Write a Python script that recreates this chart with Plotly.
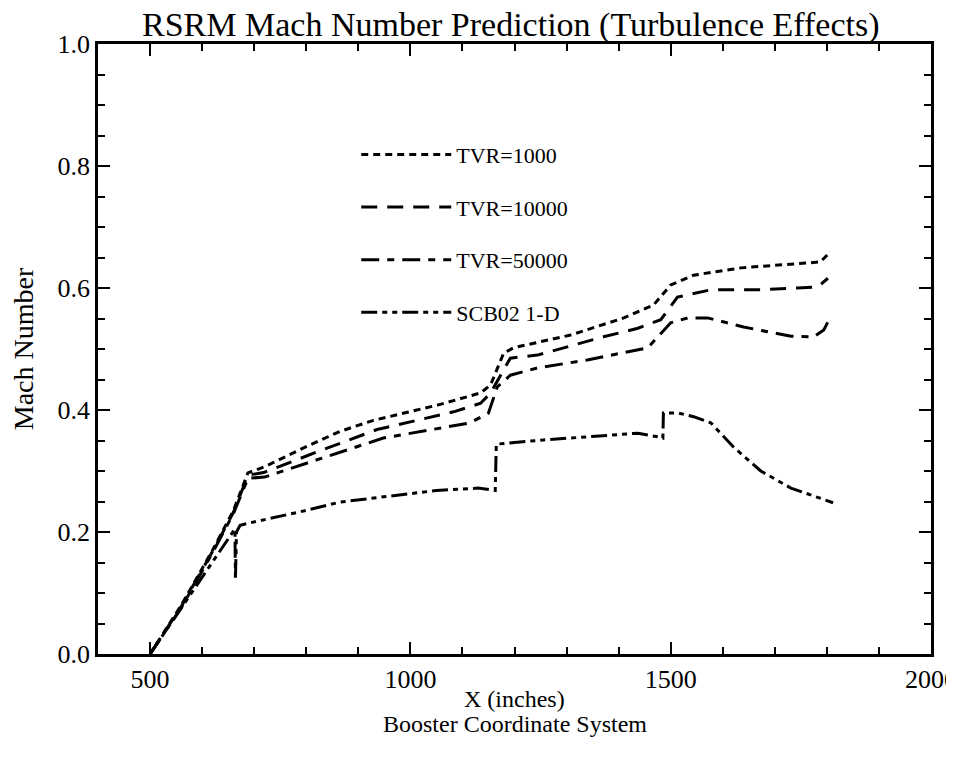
import plotly.graph_objects as go

# ---- data ----
tvr1000_x = [500, 560, 620, 660, 688, 720, 800, 865, 929, 1000, 1052, 1135, 1154, 1179, 1198, 1308, 1410, 1467, 1500, 1544, 1635, 1763, 1788, 1804]
tvr1000_y = [0.0, 0.08, 0.17, 0.235, 0.297, 0.307, 0.34, 0.365, 0.383, 0.398, 0.408, 0.428, 0.441, 0.493, 0.502, 0.523, 0.551, 0.572, 0.605, 0.621, 0.633, 0.641, 0.643, 0.657]

tvr10000_x = [500, 560, 620, 660, 688, 720, 820, 900, 936, 1083, 1135, 1154, 1192, 1244, 1371, 1437, 1481, 1500, 1513, 1577, 1673, 1744, 1783, 1802]
tvr10000_y = [0.0, 0.078, 0.168, 0.232, 0.293, 0.298, 0.331, 0.356, 0.368, 0.397, 0.411, 0.428, 0.485, 0.49, 0.52, 0.534, 0.548, 0.57, 0.585, 0.597, 0.597, 0.6, 0.602, 0.616]

tvr50000_x = [500, 560, 620, 660, 688, 720, 830, 900, 948, 1115, 1150, 1167, 1192, 1244, 1340, 1456, 1485, 1500, 1533, 1571, 1640, 1731, 1775, 1794, 1804]
tvr50000_y = [0.0, 0.076, 0.166, 0.23, 0.288, 0.29, 0.321, 0.341, 0.354, 0.379, 0.395, 0.438, 0.457, 0.469, 0.482, 0.502, 0.528, 0.543, 0.551, 0.551, 0.536, 0.521, 0.52, 0.531, 0.548]

scb02_x = [500, 560, 620, 660, 663, 664, 666, 673, 692, 788, 865, 942, 1050, 1130, 1163, 1165, 1256, 1340, 1437, 1475, 1485, 1486, 1515, 1544, 1577, 1621, 1673, 1731, 1812]
scb02_y = [0.0, 0.075, 0.15, 0.2, 0.205, 0.123, 0.2, 0.211, 0.215, 0.233, 0.249, 0.257, 0.268, 0.272, 0.268, 0.344, 0.351, 0.356, 0.362, 0.356, 0.354, 0.395, 0.395, 0.389, 0.379, 0.339, 0.30, 0.272, 0.248]

x_ticks = [500, 1000, 1500, 2000]
y_ticks = [0.0, 0.2, 0.4, 0.6, 0.8, 1.0]

series = [
    ("TVR=1000", tvr1000_x, tvr1000_y, "7px,5px"),
    ("TVR=10000", tvr10000_x, tvr10000_y, "16px,10px"),
    ("TVR=50000", tvr50000_x, tvr50000_y, "18px,8px,7px,8px"),
    ("SCB02 1-D", scb02_x, scb02_y, "16px,5px,5px,5px,5px,5px"),
]

FONT = "Liberation Serif"

fig = go.Figure()
for i, (name, xs, ys, dash) in enumerate(series):
    fig.add_trace(go.Scatter(
        x=xs, y=ys, mode="lines", name=name, legendgroup=f"g{i}",
        line=dict(color="black", width=3, dash=dash),
    ))

axis_common = dict(
    showgrid=False, zeroline=False, showline=True, linecolor="black", linewidth=2.5,
    mirror="ticks", ticks="inside", tickcolor="black", tickwidth=2, ticklen=12,
    tickfont=dict(family=FONT, size=26, color="black"), automargin=False,
    ticklabeloverflow="allow",
)

fig.update_layout(
    width=954, height=760,
    paper_bgcolor="white", plot_bgcolor="white",
    margin=dict(l=90, r=31, t=36, b=114),
    font=dict(family=FONT, color="black"),
    title=dict(text="RSRM Mach Number Prediction (Turbulence Effects)",
               font=dict(family=FONT, size=34, color="black"),
               x=0.527, xanchor="center", xref="container",
               y=0.995, yanchor="top", yref="container"),
    xaxis=dict(range=[400, 2000], tickvals=x_ticks,
               minor=dict(dtick=100, ticks="inside", ticklen=7, tickcolor="black", tickwidth=2),
               **axis_common),
    yaxis=dict(range=[0, 1.0], tickvals=y_ticks, tickformat=".1f",
               minor=dict(dtick=0.05, ticks="inside", ticklen=7, tickcolor="black", tickwidth=2),
               title=dict(text="Mach Number", font=dict(family=FONT, size=28, color="black"), standoff=37),
               **axis_common),
    legend=dict(x=0.31, y=0.853, xanchor="left", yanchor="top",
                bgcolor="rgba(0,0,0,0)", borderwidth=0,
                font=dict(family=FONT, size=22, color="black"),
                tracegroupgap=21, itemwidth=90),
    showlegend=True,
)

fig.add_annotation(text="X (inches)", xref="paper", yref="paper",
                   x=0.5, y=-0.074, xanchor="center", yanchor="middle", showarrow=False,
                   font=dict(family=FONT, size=24, color="black"))
fig.add_annotation(text="Booster Coordinate System", xref="paper", yref="paper",
                   x=0.5, y=-0.114, xanchor="center", yanchor="middle", showarrow=False,
                   font=dict(family=FONT, size=24, color="black"))

fig.write_html("out.html")
